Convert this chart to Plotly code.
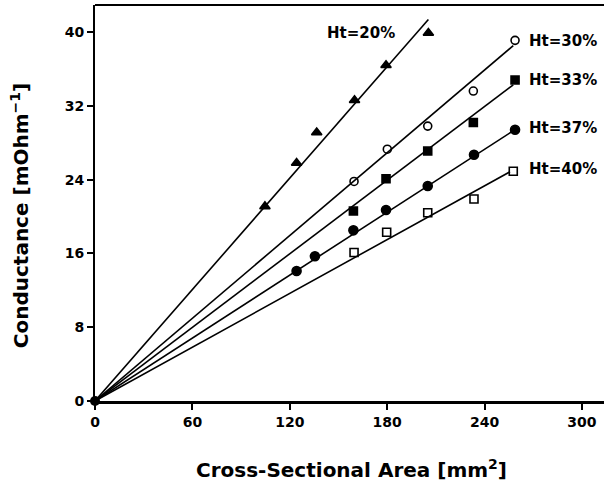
import plotly.graph_objects as go

# ---- data ----
series_names = ["Ht=20%", "Ht=30%", "Ht=33%", "Ht=37%", "Ht=40%"]

x_20 = [104.7, 124.2, 136.6, 159.9, 179.3, 205.4]
y_20 = [21.1, 25.8, 29.1, 32.6, 36.4, 39.9]

x_30 = [159.6, 180.1, 205.0, 233.1, 258.8]
y_30 = [23.8, 27.3, 29.8, 33.6, 39.1]

x_33 = [159.2, 179.3, 205.0, 233.1, 258.8]
y_33 = [20.6, 24.1, 27.1, 30.2, 34.8]

x_37 = [124.2, 135.5, 159.2, 179.3, 205.0, 233.5, 258.8]
y_37 = [14.1, 15.7, 18.5, 20.7, 23.3, 26.7, 29.4]

x_40 = [159.6, 179.7, 205.0, 233.5, 257.7]
y_40 = [16.1, 18.3, 20.4, 21.9, 24.9]

fit_slopes = [0.2014, 0.1495, 0.1330, 0.1137, 0.0972]
fit_end_x = [205.4, 257.7, 257.7, 256.7, 255.7]

label_x = [164, 266, 266, 266, 266]
label_y = [39.9, 39.0, 34.8, 29.6, 25.2]

x_ticks = [0, 60, 120, 180, 240, 300]
y_ticks = [0, 8, 16, 24, 32, 40]

x_title = "Cross-Sectional Area [mm<sup>2</sup>]"
y_title = "Conductance [mOhm<sup>−1</sup>]"

# ---- styles ----
xs = [x_20, x_30, x_33, x_37, x_40]
ys = [y_20, y_30, y_33, y_37, y_40]
symbols = ["triangle-up", "circle-open", "square", "circle", "square-open"]
sizes = [9, 8, 8, 9, 8]

FONT = "DejaVu Sans"
fig = go.Figure()

for i in range(5):
    fig.add_trace(go.Scatter(
        x=[0, fit_end_x[i]], y=[0, fit_slopes[i] * fit_end_x[i]],
        mode="lines", line=dict(color="black", width=1.6),
        showlegend=False, hoverinfo="skip"))

for i in range(5):
    fig.add_trace(go.Scatter(
        x=xs[i], y=ys[i], mode="markers", name=series_names[i],
        marker=dict(symbol=symbols[i], size=sizes[i], color="black",
                    line=dict(color="black", width=1.6)),
        showlegend=False))

fig.add_trace(go.Scatter(
    x=[0], y=[0], mode="markers",
    marker=dict(symbol="circle", size=10, color="black"),
    cliponaxis=False, showlegend=False))

for i in range(5):
    fig.add_annotation(
        x=label_x[i], y=label_y[i], text=series_names[i], showarrow=False,
        xanchor="center" if i == 0 else "left", yanchor="middle",
        font=dict(family=FONT, size=15, color="black", weight="bold"))

fig.add_annotation(
    x=0.503, y=-0.172, xref="paper", yref="paper", text=x_title, showarrow=False,
    xanchor="center", yanchor="middle",
    font=dict(family=FONT, size=20, color="black", weight="bold"))
fig.add_annotation(
    x=-0.147, y=0.467, xref="paper", yref="paper", text=y_title, showarrow=False,
    textangle=-90, xanchor="center", yanchor="middle",
    font=dict(family=FONT, size=20, color="black", weight="bold"))

fig.add_shape(type="line", xref="paper", yref="paper", x0=0, x1=1, y0=1, y1=1,
              line=dict(color="black", width=2))

fig.update_layout(
    width=604, height=484,
    margin=dict(l=95, r=0, t=5, b=83),
    plot_bgcolor="white", paper_bgcolor="white",
    font=dict(family=FONT, color="black"),
    xaxis=dict(
        range=[0, 313.6], tickvals=x_ticks, ticktext=[str(v) for v in x_ticks],
        showgrid=False, zeroline=False, showline=True, linecolor="black", linewidth=2.5,
        ticks="outside", ticklen=6, tickwidth=1.5, tickcolor="black",
        tickfont=dict(family=FONT, size=14, color="black", weight="bold"),
    ),
    yaxis=dict(
        range=[0, 42.93], tickvals=y_ticks, ticktext=[str(v) for v in y_ticks],
        showgrid=False, zeroline=False, showline=True, linecolor="black", linewidth=2,
        ticks="outside", ticklen=6, tickwidth=1.5, tickcolor="black",
        tickfont=dict(family=FONT, size=14, color="black", weight="bold"),
    ),
)

fig.write_html("out.html")
